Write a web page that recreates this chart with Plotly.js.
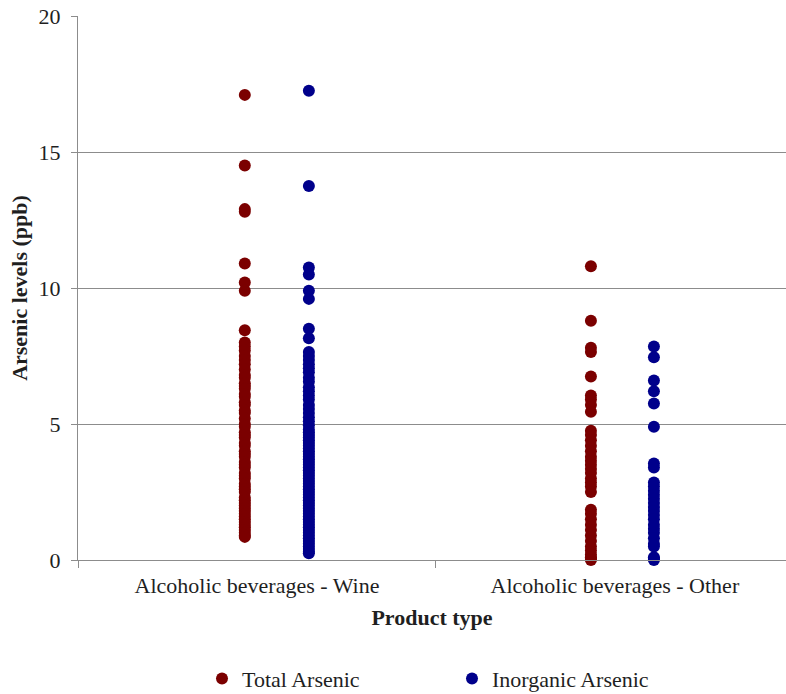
<!DOCTYPE html>
<html>
<head>
<meta charset="utf-8">
<script src="https://cdn.plot.ly/plotly-3.0.1.min.js"></script>
<style>html,body{margin:0;padding:0;background:#fff;}#chart{width:786px;height:694px;}</style>
</head>
<body>
<div id="chart"></div>
<script>
// ---- data ----
var categories = ["Alcoholic beverages - Wine", "Alcoholic beverages - Other"];
var seriesNames = ["Total Arsenic", "Inorganic Arsenic"];

var wineTotal = [17.1, 14.5, 12.9, 12.8, 10.9, 10.2, 9.9, 8.45, 8.0, 7.85, 7.7, 7.5, 7.35, 7.2, 7.0, 6.8, 6.7, 6.5, 6.4, 6.3, 6.1, 6.0, 5.8, 5.7, 5.5, 5.4, 5.2, 5.0, 4.9, 4.7, 4.6, 4.5, 4.3, 4.2, 4.0, 3.9, 3.8, 3.6, 3.5, 3.4, 3.2, 3.1, 3.0, 2.8, 2.7, 2.6, 2.5, 2.3, 2.2, 2.1, 2.0, 1.9, 1.8, 1.7, 1.6, 1.5, 1.4, 1.3, 1.2, 1.1, 1.0, 0.9, 0.85];
var wineInorganic = [17.25, 13.75, 10.75, 10.5, 9.9, 9.6, 8.5, 8.15, 7.65, 7.5, 7.35, 7.2, 7.05, 6.9, 6.7, 6.55, 6.35, 6.2, 6.05, 5.9, 5.7, 5.55, 5.4, 5.25, 5.1, 4.95, 4.8, 4.7, 4.6, 4.5, 4.4, 4.3, 4.2, 4.1, 4.0, 3.9, 3.8, 3.7, 3.6, 3.5, 3.4, 3.3, 3.2, 3.1, 3.0, 2.9, 2.8, 2.7, 2.6, 2.5, 2.4, 2.3, 2.2, 2.1, 2.0, 1.9, 1.8, 1.7, 1.6, 1.5, 1.4, 1.3, 1.2, 1.1, 1.0, 0.9, 0.8, 0.7, 0.6, 0.5, 0.4, 0.3, 0.25];
var otherTotal = [10.8, 8.8, 7.8, 7.65, 6.75, 6.05, 5.9, 5.7, 5.45, 4.75, 4.6, 4.4, 4.2, 4.0, 3.8, 3.65, 3.5, 3.35, 3.2, 3.0, 2.85, 2.7, 2.5, 1.85, 1.7, 1.5, 1.3, 1.1, 0.9, 0.7, 0.5, 0.35, 0.2, 0.1, 0.05, 0];
var otherInorganic = [7.85, 7.45, 6.6, 6.2, 5.75, 4.9, 3.55, 3.4, 2.85, 2.7, 2.55, 2.4, 2.25, 2.1, 1.95, 1.8, 1.65, 1.5, 1.3, 1.15, 1.0, 0.8, 0.6, 0.5, 0.1, 0.05, 0];

var yTickVals = [0, 5, 10, 15, 20];
var yTickText = ["0", "5", "10", "15", "20"];

// ---- layout helpers (positions / styles) ----
var FONT = "Liberation Serif, Times New Roman, serif";
var FS = 22;
var TXT = "#1f1f1f";
// horizontal offset of each series within its category (category units)
var offsets = {total: [-0.034, -0.067], inorganic: [0.145, 0.109]};

function xs(catIdx, arr, off) { return arr.map(function () { return catIdx + off; }); }

var totalX = xs(0, wineTotal, offsets.total[0]).concat(xs(1, otherTotal, offsets.total[1]));
var totalY = wineTotal.concat(otherTotal);
var inorgX = xs(0, wineInorganic, offsets.inorganic[0]).concat(xs(1, otherInorganic, offsets.inorganic[1]));
var inorgY = wineInorganic.concat(otherInorganic);

var traces = [
  {x: totalX, y: totalY, name: seriesNames[0], type: "scatter", mode: "markers",
   marker: {color: "#7b0000", size: 12}, cliponaxis: false},
  {x: inorgX, y: inorgY, name: seriesNames[1], type: "scatter", mode: "markers",
   marker: {color: "#00008b", size: 12}, cliponaxis: false}
];

var layout = {
  width: 786, height: 694,
  margin: {l: 78, r: 0, t: 16, b: 134, pad: 0},
  paper_bgcolor: "#fff", plot_bgcolor: "#fff",
  font: {family: FONT, size: FS, color: TXT},
  showlegend: true,
  legend: {orientation: "h", xref: "container", yref: "container", x: 0.257, xanchor: "left",
           y: 0.022, yanchor: "middle", font: {family: FONT, size: FS, color: TXT},
           entrywidth: 205, itemwidth: 30, tracegroupgap: 0, bgcolor: "rgba(0,0,0,0)"},
  xaxis: {
    range: [-0.5, 1.478], tickmode: "array", tickvals: [0, 1], ticktext: categories,
    ticks: "", showgrid: false, zeroline: false, showline: true, linecolor: "#8c8c8c", linewidth: 1,
    tickfont: {family: FONT, size: FS, color: TXT}, ticklabelstandoff: 6,
    minor: {tickmode: "array", tickvals: [-0.5, 0.5, 1.5], ticks: "outside", ticklen: 7, tickcolor: "#8c8c8c", showgrid: false},
    title: {text: "<b>Product type</b>", font: {family: FONT, size: FS, color: TXT}, standoff: 12},
    automargin: false, fixedrange: true
  },
  yaxis: {
    range: [0, 20], tickmode: "array", tickvals: yTickVals, ticktext: yTickText,
    ticks: "outside", ticklen: 6, tickcolor: "#8c8c8c",
    showgrid: true, gridcolor: "#8c8c8c", gridwidth: 1, zeroline: false,
    showline: true, linecolor: "#8c8c8c", linewidth: 1,
    tickfont: {family: FONT, size: FS, color: TXT}, ticklabelstandoff: 6,
    title: {text: "<b>Arsenic levels (ppb)</b>", font: {family: FONT, size: FS, color: TXT}, standoff: 4},
    automargin: false, fixedrange: true
  }
};

Plotly.newPlot("chart", traces, layout, {staticPlot: true, displayModeBar: false});
</script>
</body>
</html>
